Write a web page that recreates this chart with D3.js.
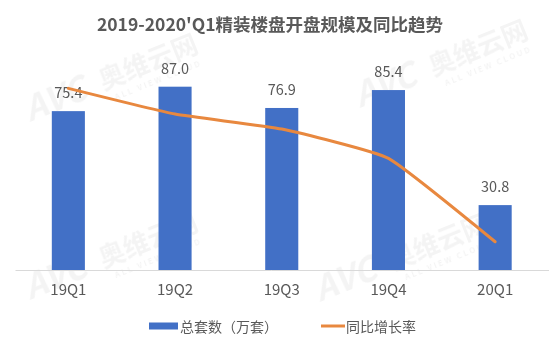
<!DOCTYPE html>
<html>
<head>
<meta charset="utf-8">
<script src="https://cdn.jsdelivr.net/npm/d3@7"></script>
<style>
  html, body { margin: 0; padding: 0; background: #fff; }
  svg { display: block; }
  text { font-family: "Noto Sans CJK SC", "Noto Sans", sans-serif; }
</style>
</head>
<body>
<svg id="chart" width="550" height="346"></svg>
<script>
// Quarterly scale of fine-decoration project openings (10k units) and YoY growth
const categories = ["19Q1", "19Q2", "19Q3", "19Q4", "20Q1"];
const totalUnits = [75.4, 87.0, 76.9, 85.4, 30.8];
const yoyGrowth = [0.262, 0.140, 0.069, -0.070, -0.466];
const seriesNames = ["总套数（万套）", "同比增长率"];
const titleText = "2019-2020'Q1精装楼盘开盘规模及同比趋势";

const W = 550, H = 346;
const svg = d3.select("#chart");

const margin = { left: 15, right: 1.5, top: 59, bottom: 76 };
const baseY = H - margin.bottom;

const x = d3.scaleBand()
  .domain(categories)
  .range([margin.left, W - margin.right])
  .paddingInner(0.69)
  .paddingOuter(0.345);

const y = d3.scaleLinear().domain([0, 100]).range([baseY, 59.3]);
const y2 = d3.scaleLinear().domain([-0.6, 0.4]).range([baseY, 59.3]);

// Faint brand watermarks behind the plot
const wm = svg.append("g").attr("fill", "#000").attr("opacity", 0.045)
  .attr("font-weight", "bold");
const marks = [
  { x: 30, y: 122, r: -22 },
  { x: 360, y: 108, r: -22 },
  { x: 30, y: 300, r: -22 },
  { x: 320, y: 302, r: -22 }
];
marks.forEach(m => {
  const g = wm.append("g").attr("transform", `translate(${m.x},${m.y}) rotate(${m.r})`);
  g.append("text").attr("font-size", 34).attr("font-style", "italic")
    .attr("font-family", "DejaVu Sans, sans-serif").text("AVC");
  g.append("text").attr("x", 80).attr("y", -2).attr("font-size", 26).text("奥维云网");
  g.append("text").attr("x", 88).attr("y", 12).attr("font-size", 8)
    .attr("letter-spacing", 2).text("ALL VIEW CLOUD");
});

// Title
svg.append("text")
  .attr("x", 270).attr("y", 31)
  .attr("text-anchor", "middle")
  .attr("font-size", 17.5).attr("font-weight", "bold")
  .attr("fill", "#595959")
  .text(titleText);

// Baseline axis
const xAxis = d3.axisBottom(x).tickSize(0).tickPadding(14);
const axisG = svg.append("g").attr("transform", `translate(0,${baseY})`).call(xAxis);
axisG.select(".domain").attr("stroke", "#d9d9d9").attr("stroke-width", 1);
axisG.selectAll("text")
  .attr("font-size", 15).attr("fill", "#595959")
  .attr("font-family", "\"Noto Sans CJK SC\", sans-serif");

// Bars
svg.append("g").selectAll("rect")
  .data(categories)
  .join("rect")
  .attr("x", d => x(d))
  .attr("width", x.bandwidth())
  .attr("y", (d, i) => y(totalUnits[i]))
  .attr("height", (d, i) => baseY - y(totalUnits[i]))
  .attr("fill", "#4270C6");

// Bar value labels
svg.append("g").selectAll("text")
  .data(categories)
  .join("text")
  .attr("x", d => x(d) + x.bandwidth() / 2)
  .attr("y", (d, i) => y(totalUnits[i]) - 13)
  .attr("text-anchor", "middle")
  .attr("font-size", 14.5)
  .attr("fill", "#595959")
  .text((d, i) => totalUnits[i].toFixed(1));

// Growth line (lightly smoothed)
const line = d3.line()
  .x((d, i) => x(categories[i]) + x.bandwidth() / 2)
  .y(d => y2(d))
  .curve(d3.curveCardinal.tension(0.6));

svg.append("path")
  .datum(yoyGrowth)
  .attr("d", line)
  .attr("fill", "none")
  .attr("stroke", "#E8883F")
  .attr("stroke-width", 3)
  .attr("stroke-linejoin", "round")
  .attr("stroke-linecap", "round");

// Legend
const lg = svg.append("g");
lg.append("rect").attr("x", 149).attr("y", 322.5).attr("width", 29).attr("height", 7)
  .attr("fill", "#4270C6");
lg.append("text").attr("x", 180).attr("y", 331.5).attr("font-size", 14)
  .attr("fill", "#595959").text(seriesNames[0]);
lg.append("line").attr("x1", 321).attr("x2", 345).attr("y1", 326).attr("y2", 326)
  .attr("stroke", "#E8883F").attr("stroke-width", 3);
lg.append("text").attr("x", 346).attr("y", 331.5).attr("font-size", 14)
  .attr("fill", "#595959").text(seriesNames[1]);
</script>
</body>
</html>
